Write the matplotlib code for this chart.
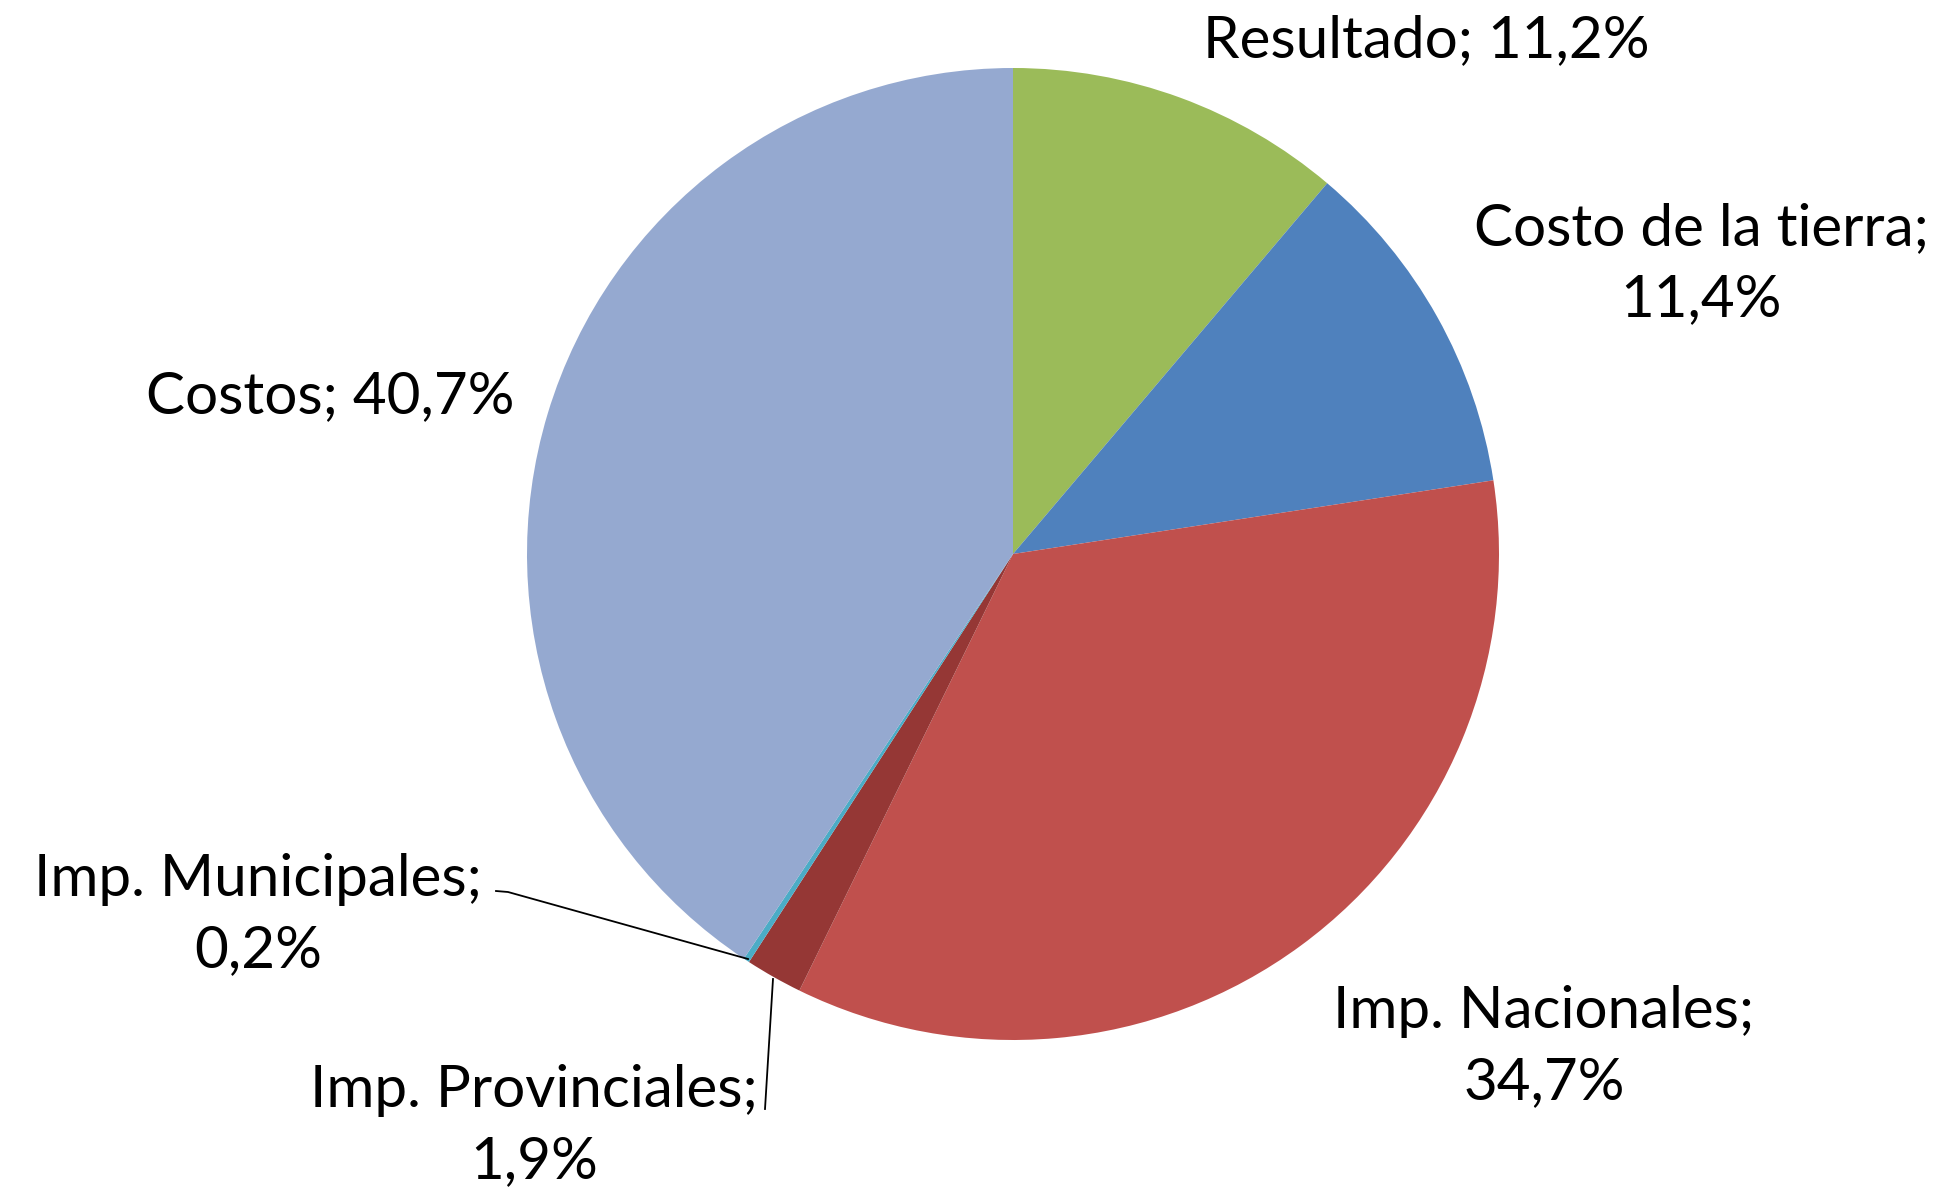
import matplotlib.pyplot as plt

# Data
categories = ["Resultado", "Costo de la tierra", "Imp. Nacionales",
              "Imp. Provinciales", "Imp. Municipales", "Costos"]
shares = [11.2, 11.4, 34.7, 1.9, 0.2, 40.7]
colors = ["#9BBB59", "#4F81BD", "#C0504D", "#953735", "#4BACC6", "#95A9D0"]

W, H = 1943, 1194
fig = plt.figure(figsize=(W / 100, H / 100), dpi=100)
ax = fig.add_axes([0, 0, 1, 1])

# pie in pixel space (y measured from bottom)
cx, cy, r = 1013, H - 554, 486
ax.pie(shares, colors=colors, startangle=90, counterclock=False,
       center=(cx, cy), radius=r, frame=True,
       wedgeprops=dict(linewidth=0))
ax.set_xlim(0, W)
ax.set_ylim(0, H)
ax.set_aspect("equal")
ax.axis("off")

def fmt(v):
    return f"{v:.1f}".replace(".", ",") + "%"

# label positions (pixel, from top) and whether to break onto two lines
label_pos = [(1426, 41, False), (1701, 264, True), (1544, 1047, True),
             (534, 1126, True), (258, 915, True), (330, 397, False)]

for name, v, (x, y, two) in zip(categories, shares, label_pos):
    sep = ";\n" if two else "; "
    ax.text(x, H - y, name + sep + fmt(v), ha="center", va="center",
            fontsize=42, family="Lato", linespacing=1.42, color="black")

# leader lines for the two small slices
ax.plot([496, 508, 748], [H - 891, H - 892, H - 959], color="black", lw=1.3)
ax.plot([765, 773], [H - 1109, H - 979], color="black", lw=1.3)

fig.savefig("out.png", dpi=100)
